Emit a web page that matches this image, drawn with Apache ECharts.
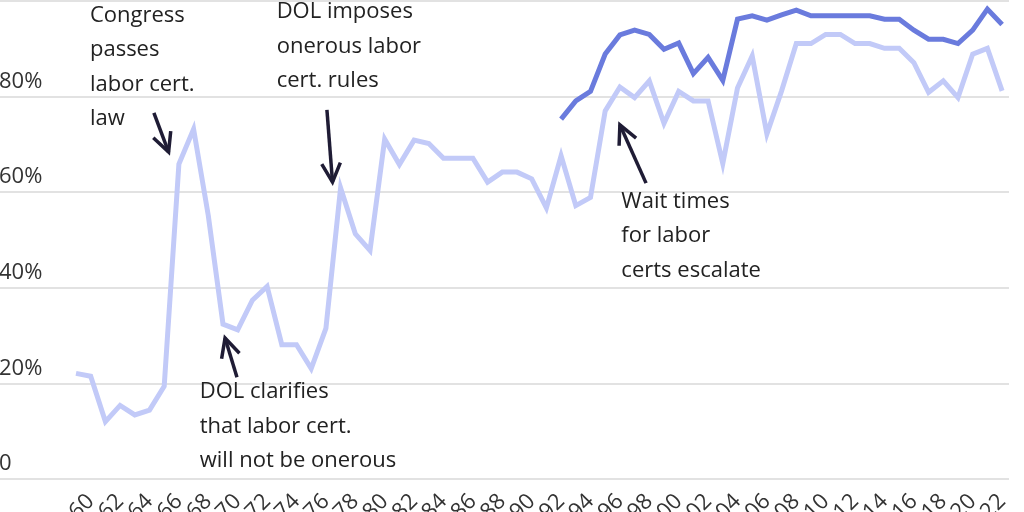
<!DOCTYPE html>
<html>
<head>
<meta charset="utf-8">
<script src="https://cdn.jsdelivr.net/npm/echarts@6/dist/echarts.min.js"></script>
<style>
  html, body { margin: 0; padding: 0; background: #fff; }
  #chart { width: 1024px; height: 512px; }
</style>
</head>
<body>
<div id="chart"></div>
<script>
// share of ... by year, percent
const allYears = [1959, 1960, 1961, 1962, 1963, 1964, 1965, 1966, 1967, 1968, 1969, 1970, 1971, 1972, 1973, 1974, 1975, 1976, 1977, 1978, 1979, 1980, 1981, 1982, 1983, 1984, 1985, 1986, 1987, 1988, 1989, 1990, 1991, 1992, 1993, 1994, 1995, 1996, 1997, 1998, 1999, 2000, 2001, 2002, 2003, 2004, 2005, 2006, 2007, 2008, 2009, 2010, 2011, 2012, 2013, 2014, 2015, 2016, 2017, 2018, 2019, 2020, 2021, 2022];
const lightValues = [22.1, 21.5, 12.0, 15.4, 13.4, 14.4, 19.4, 65.9, 73.2, 55.1, 32.4, 31.2, 37.4, 40.3, 28.1, 28.1, 23.1, 31.5, 60.9, 51.3, 47.8, 71.1, 65.8, 70.9, 70.2, 67.1, 67.1, 67.1, 62.1, 64.2, 64.2, 62.8, 56.7, 67.6, 57.2, 58.9, 77.0, 82.0, 79.8, 83.3, 74.4, 81.1, 79.1, 79.1, 66.0, 81.8, 88.5, 72.2, 81.2, 91.1, 91.1, 93.0, 93.0, 91.1, 91.1, 90.1, 90.1, 87.1, 80.9, 83.3, 79.8, 88.9, 90.1, 81.2];
const darkYears = [1992, 1993, 1994, 1995, 1996, 1997, 1998, 1999, 2000, 2001, 2002, 2003, 2004, 2005, 2006, 2007, 2008, 2009, 2010, 2011, 2012, 2013, 2014, 2015, 2016, 2017, 2018, 2019, 2020, 2021, 2022];
const darkValues = [75.3, 79.1, 81.1, 88.9, 92.9, 93.9, 93.0, 89.9, 91.2, 84.8, 88.2, 83.4, 96.2, 96.9, 96.0, 97.1, 98.1, 96.9, 96.9, 96.9, 96.9, 96.9, 96.2, 96.2, 93.9, 92.0, 92.0, 91.1, 93.9, 98.3, 95.1];
const tickYears = [1960, 1962, 1964, 1966, 1968, 1970, 1972, 1974, 1976, 1978, 1980, 1982, 1984, 1986, 1988, 1990, 1992, 1994, 1996, 1998, 2000, 2002, 2004, 2006, 2008, 2010, 2012, 2014, 2016, 2018, 2020, 2022];

// annotations in data space: text block top-left, arrow tail -> tip
const noteTexts = [
  { text: 'Congress\npasses\nlabor cert.\nlaw', at: [1959.95, 100.6] },
  { text: 'DOL imposes\nonerous labor\ncert. rules', at: [1972.65, 101.3] },
  { text: 'DOL clarifies\nthat labor cert.\nwill not be onerous', at: [1967.42, 21.8] },
  { text: 'Wait times\nfor labor\ncerts escalate', at: [1996.1, 61.7] }
];
const noteArrows = [
  { from: [1964.3, 76.6], to: [1965.3, 68.4] },
  { from: [1976.07, 77.2], to: [1976.45, 62.1] },
  { from: [1969.95, 21.3], to: [1969.14, 29.5] },
  { from: [1997.78, 61.9], to: [1996.0, 74.1] }
];

const FONT = '"Open Sans", "Liberation Sans", sans-serif';
const chart = echarts.init(document.getElementById('chart'));

const gridBox = { left: 0, right: 15, top: 1, bottom: 33, containLabel: false, outerBoundsMode: 'none' };

// the year labels are packed tight, so they are split over two identical grids
// (one label set per grid) to stop ECharts dropping the neighbours of the end labels
function yearAxis(gridIndex, values) {
  return {
    type: 'value',
    gridIndex,
    min: 1953.83,
    max: 2022.47,
    axisLine: { show: false },
    axisTick: { show: false },
    splitLine: { show: false },
    axisLabel: {
      customValues: values,
      rotate: 45,
      margin: 19,
      fontSize: 22,
      fontFamily: FONT,
      color: '#333',
      hideOverlap: false,
      showMinLabel: true,
      showMaxLabel: true,
      formatter: v => String(v).slice(2)
    }
  };
}

chart.setOption({
  animation: false,
  backgroundColor: '#fff',
  grid: [gridBox, Object.assign({}, gridBox)],
  xAxis: [
    yearAxis(0, tickYears.filter((_, i) => i % 2 === 0)),
    yearAxis(1, tickYears.filter((_, i) => i % 2 === 1))
  ],
  yAxis: [
    {
      type: 'value',
      gridIndex: 0,
      min: 0,
      max: 100,
      interval: 20,
      axisLine: { show: false },
      axisTick: { show: false },
      splitLine: { lineStyle: { color: '#d9d9d9', width: 1.5 } },
      axisLabel: {
        inside: true,
        margin: -1,
        showMaxLabel: false,
        verticalAlign: 'bottom',
        lineHeight: 22,
        padding: [0, 0, 4, 0],
        fontSize: 22,
        fontFamily: FONT,
        color: '#333',
        formatter: v => (v === 0 ? '0' : v + '%')
      }
    },
    { type: 'value', gridIndex: 1, min: 0, max: 100, show: false, splitLine: { show: false } }
  ],
  series: [
    {
      type: 'line',
      data: allYears.map((y, i) => [y, lightValues[i]]),
      showSymbol: false,
      lineStyle: { color: '#c2caf8', width: 5, join: 'miter' },
      z: 2
    },
    {
      type: 'line',
      data: darkYears.map((y, i) => [y, darkValues[i]]),
      showSymbol: false,
      lineStyle: { color: '#6a7bdd', width: 5, join: 'miter' },
      z: 3
    }
  ]
});

// annotation layer placed through the chart's own scales
function drawNotes() {
  const g = [];
  noteTexts.forEach(n => {
    const p = chart.convertToPixel({ gridIndex: 0 }, n.at);
    g.push({
      type: 'text',
      x: p[0],
      y: p[1],
      z: 10,
      style: {
        text: n.text,
        font: '22px ' + FONT,
        fill: '#222',
        lineHeight: 34.5,
        textAlign: 'left',
        textVerticalAlign: 'top'
      }
    });
  });
  noteArrows.forEach(a => {
    const p0 = chart.convertToPixel({ gridIndex: 0 }, a.from);
    const p1 = chart.convertToPixel({ gridIndex: 0 }, a.to);
    const ang = Math.atan2(p1[1] - p0[1], p1[0] - p0[0]);
    const len = 21, spread = 0.46;
    const w1 = [p1[0] - len * Math.cos(ang - spread), p1[1] - len * Math.sin(ang - spread)];
    const w2 = [p1[0] - len * Math.cos(ang + spread), p1[1] - len * Math.sin(ang + spread)];
    const stroke = { stroke: '#1f1c35', lineWidth: 3.5, fill: null };
    g.push({ type: 'line', z: 10, shape: { x1: p0[0], y1: p0[1], x2: p1[0], y2: p1[1] }, style: stroke });
    g.push({ type: 'polyline', z: 10, shape: { points: [w1, p1, w2] }, style: stroke });
  });
  chart.setOption({ graphic: g });
}
drawNotes();
</script>
</body>
</html>
